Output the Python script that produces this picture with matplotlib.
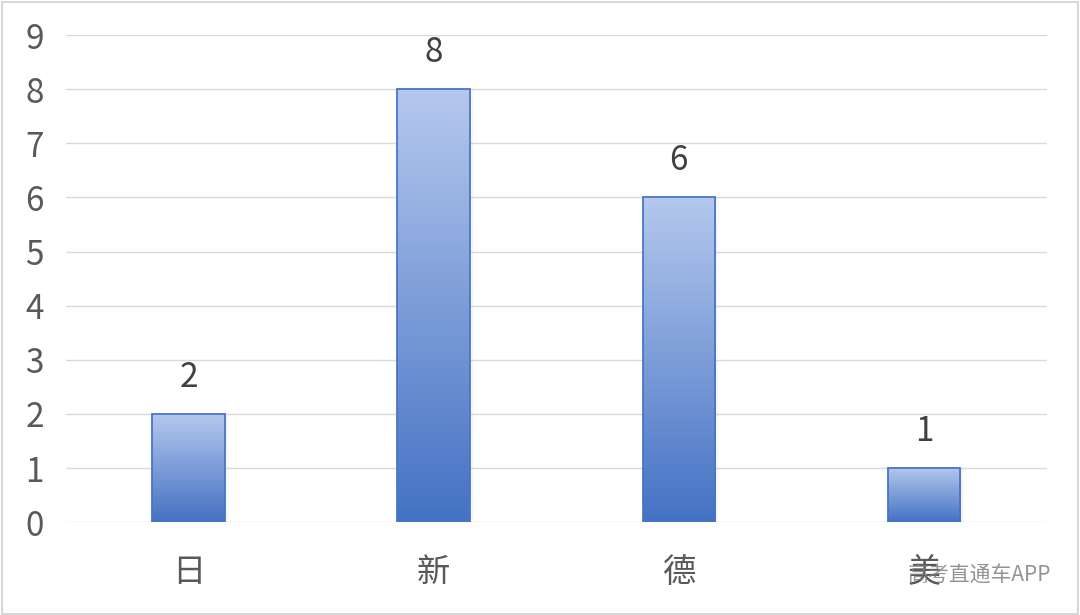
import numpy as np
import matplotlib
matplotlib.use("Agg")
import matplotlib.pyplot as plt
from matplotlib.colors import LinearSegmentedColormap
from matplotlib.patches import Rectangle

plt.rcParams['font.family'] = ['Noto Sans CJK SC', 'DejaVu Sans']

# data
categories = ['日', '新', '德', '美']
values = [2, 8, 6, 1]
y_ticks = list(range(0, 10))

bar_width = 0.295
top_color = '#b5c8ed'
bottom_color = '#4472c4'
edge_color = '#4a75c6'
grad = LinearSegmentedColormap.from_list('bar', [bottom_color, top_color])

fig = plt.figure(figsize=(10.8, 6.15), dpi=100)
ax = fig.add_axes([0.061, 0.151, 0.908, 0.792])

x = np.arange(len(categories))
ax.set_xlim(-0.5, len(categories) - 0.5)
ax.set_ylim(0, 9)

# gridlines
for t in y_ticks:
    ax.axhline(t, color='#d9d9d9', lw=1.0, zorder=0)

gradient = np.linspace(0, 1, 256).reshape(-1, 1)
for xi, v in zip(x, values):
    left = xi - bar_width / 2
    # soft shadow
    for k, a in enumerate([0.05, 0.035, 0.02]):
        off = 0.006 * (k + 1)
        ax.add_patch(Rectangle((left + off, -0.02), bar_width, v, facecolor='#7f7f7f',
                               edgecolor='none', alpha=a, zorder=1))
    im = ax.imshow(gradient, cmap=grad, aspect='auto', origin='lower',
                   extent=(left, left + bar_width, 0, v), zorder=2)
    rect = Rectangle((left, 0), bar_width, v, facecolor='none', edgecolor=edge_color,
                     lw=1.3, zorder=3)
    ax.add_patch(rect)
    im.set_clip_path(rect)
    ax.text(xi, v + 0.68, str(v), ha='center', va='center', fontsize=24, color='#404040')

ax.set_xticks(x)
ax.set_xticklabels(categories, fontsize=24, color='#595959')
ax.set_yticks(y_ticks)
ax.set_yticklabels([str(t) for t in y_ticks], fontsize=24, color='#595959')
ax.tick_params(axis='both', length=0)
ax.tick_params(axis='x', pad=24)
ax.tick_params(axis='y', pad=16)
for s in ax.spines.values():
    s.set_visible(False)

# outer border
fig.patches.append(Rectangle((0.002, 0.002), 0.996, 0.995, transform=fig.transFigure,
                             facecolor='none', edgecolor='#d0d0d0', lw=1.2))

# watermark
fig.text(0.973, 0.064, '高考直通车APP', ha='right', va='center', fontsize=15,
         color='#808080', alpha=0.85)

fig.savefig('out.png', dpi=100)
